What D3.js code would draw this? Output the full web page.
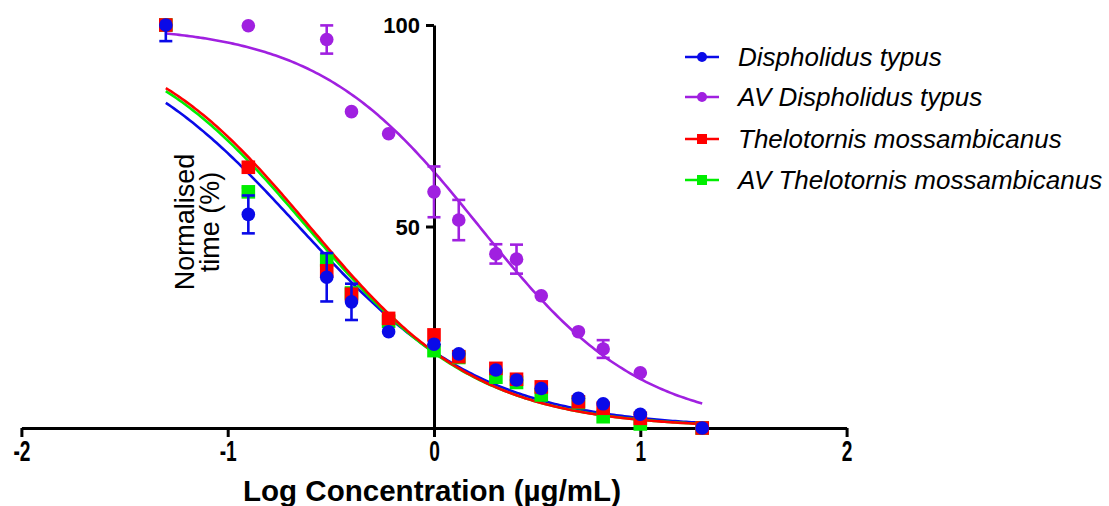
<!DOCTYPE html>
<html>
<head>
<meta charset="utf-8">
<script src="https://cdn.jsdelivr.net/npm/d3@7"></script>
<style>
  html, body { margin: 0; padding: 0; background: #fff; }
  svg { display: block; }
  text { font-family: "Liberation Sans", Arial, sans-serif; fill: #000; }
</style>
</head>
<body>
<svg id="chart" width="1109" height="506"></svg>
<script>
// ---------- DATA ----------
const logConc   = [-1.3, -0.9, -0.52, -0.4, -0.22, 0, 0.12, 0.3, 0.4, 0.52, 0.7, 0.82, 1.0, 1.3];

const dtMean    = [100, 53.0, 37.4, 31.3, 23.9, 20.8, 18.4, 14.4, 11.9, 9.8, 7.4, 6.0, 3.4, 0];
const dtErr     = [4, 4.7, 6, 4.5, 0, 0, 0, 0, 0, 0, 0, 0, 0, 0];

const avDtMean  = [100, 99.8, 96.4, 78.5, 73.0, 58.6, 51.6, 43.2, 41.9, 32.8, 23.9, 19.6, 13.7, null];
const avDtErr   = [0, 0, 3.5, 0, 0, 6.3, 5, 2.4, 3.6, 0, 0, 2.2, 0, 0];

const tmMean    = [100, 64.7, 39.0, 33.2, 27.2, 23.1, 17.7, 14.8, 12.1, 10.2, 6.5, 4.9, 2.4, 0];
const tmErr     = [0, 0, 0, 0, 0, 0, 0, 0, 0, 0, 0, 0, 0, 0];

const avTmMean  = [100, 58.6, 41.7, 33.5, 26.5, 19.2, 17.5, 12.6, 11.3, 8.2, 6.3, 2.8, 1.0, 0];
const avTmErr   = [0, 1, 0, 0, 0, 0, 0, 0, 0, 0, 0, 0, 0, 0];

// fitted 4-parameter logistic curves (order: Dt, AV Dt, Tm, AV Tm)
const fitTop      = [100, 100, 100, 100];
const fitBottom   = [0, 0, 0, 0];
const fitLogEC50  = [-0.656, 0.22, -0.603, -0.6175];
const fitHill     = [0.964, 1.10, 1.05, 1.036];
const fitRange    = [-1.3, 1.3];

const seriesNames  = ["Dispholidus typus", "AV Dispholidus typus", "Thelotornis mossambicanus", "AV Thelotornis mossambicanus"];
const seriesColors = ["#0a0ae8", "#a020e0", "#ff0000", "#00ee00"];
const seriesShapes = ["circle", "circle", "square", "square"];

const xTicks = [-2, -1, 0, 1, 2];
const yTicks = [50, 100];
const xTitle = "Log Concentration (µg/mL)";
const yTitleLines = ["Normalised", "time (%)"];

// ---------- CHART ----------
const svg = d3.select("#chart");
const x = d3.scaleLinear().domain([-2, 2]).range([21.4, 846.6]);
const y = d3.scaleLinear().domain([0, 100]).range([428, 25]);

const means = [dtMean, avDtMean, tmMean, avTmMean];
const errs  = [dtErr, avDtErr, tmErr, avTmErr];

// curves
const curveG = svg.append("g");
const drawOrderCurves = [1, 0, 3, 2];
drawOrderCurves.forEach(i => {
  const pts = d3.range(0, 201).map(k => {
    const lx = fitRange[0] + (fitRange[1] - fitRange[0]) * k / 200;
    const v = fitBottom[i] + (fitTop[i] - fitBottom[i]) / (1 + Math.pow(10, fitHill[i] * (lx - fitLogEC50[i])));
    return [lx, v];
  });
  curveG.append("path")
    .attr("d", d3.line().x(d => x(d[0])).y(d => y(d[1]))(pts))
    .attr("fill", "none")
    .attr("stroke", seriesColors[i])
    .attr("stroke-width", 2.6);
});

// axes
const axG = svg.append("g");
const xAxis = d3.axisBottom(x).tickValues(xTicks).tickSize(9).tickSizeOuter(0).tickFormat(d => String(d));
const gx = axG.append("g").attr("transform", `translate(0,${y(0)})`).call(xAxis);
gx.select(".domain").attr("stroke", "#000").attr("stroke-width", 3);
gx.selectAll(".tick line").attr("stroke", "#000").attr("stroke-width", 3);
gx.selectAll(".tick text")
  .attr("font-family", "'Liberation Sans', Arial, sans-serif")
  .attr("font-size", 29).attr("font-weight", "bold")
  .attr("fill", "#000")
  .attr("y", 0).attr("dy", 0)
  .attr("transform", "translate(0,33) scale(0.66,1)");

const yAxis = d3.axisLeft(y).tickValues(yTicks).tickSize(8).tickSizeOuter(0).tickPadding(6);
const gy = axG.append("g").attr("transform", `translate(${x(0)},0)`).call(yAxis);
gy.select(".domain").attr("stroke", "#000").attr("stroke-width", 3);
gy.selectAll(".tick line").attr("stroke", "#000").attr("stroke-width", 3);
gy.selectAll(".tick text")
  .attr("font-size", 22).attr("font-weight", "bold").attr("fill", "#000")
  .attr("dy", "0.36em");

// titles
svg.append("text")
  .attr("x", 432).attr("y", 501)
  .attr("text-anchor", "middle")
  .attr("font-size", 29).attr("font-weight", "bold")
  .attr("textLength", 378).attr("lengthAdjust", "spacingAndGlyphs")
  .text(xTitle);

yTitleLines.forEach((line, i) => {
  svg.append("text")
    .attr("transform", `translate(${194 + i * 25},222) rotate(-90)`)
    .attr("text-anchor", "middle")
    .attr("font-size", 27)
    .text(line);
});

// points & error bars
const pointG = svg.append("g");
const drawOrderPts = [1, 3, 2, 0];
drawOrderPts.forEach(i => {
  const col = seriesColors[i];
  const g = pointG.append("g");
  logConc.forEach((lx, j) => {
    const v = means[i][j];
    if (v === null || v === undefined) return;
    const e = errs[i][j] || 0;
    const cx = x(lx);
    if (e > 0) {
      const hi = Math.min(100, v + e), lo = v - e;
      g.append("line").attr("x1", cx).attr("x2", cx).attr("y1", y(hi)).attr("y2", y(lo))
        .attr("stroke", col).attr("stroke-width", 2.6);
      g.append("line").attr("x1", cx - 6.5).attr("x2", cx + 6.5).attr("y1", y(lo)).attr("y2", y(lo))
        .attr("stroke", col).attr("stroke-width", 2.6);
      if (v + e <= 100) {
        g.append("line").attr("x1", cx - 6.5).attr("x2", cx + 6.5).attr("y1", y(hi)).attr("y2", y(hi))
          .attr("stroke", col).attr("stroke-width", 2.6);
      }
    }
    if (seriesShapes[i] === "circle") {
      g.append("circle").attr("cx", cx).attr("cy", y(v)).attr("r", 6.8).attr("fill", col);
    } else {
      g.append("rect").attr("x", cx - 6.8).attr("y", y(v) - 6.8).attr("width", 13.6).attr("height", 13.6).attr("fill", col);
    }
  });
});

// legend
const legY = [57, 97, 139, 180];
const leg = svg.append("g");
seriesNames.forEach((name, i) => {
  const ly = legY[i];
  const col = seriesColors[i];
  leg.append("line").attr("x1", 685).attr("x2", 719).attr("y1", ly).attr("y2", ly)
    .attr("stroke", col).attr("stroke-width", 2.6);
  if (seriesShapes[i] === "circle") {
    leg.append("circle").attr("cx", 702).attr("cy", ly).attr("r", 5).attr("fill", col);
  } else {
    leg.append("rect").attr("x", 697).attr("y", ly - 5).attr("width", 10).attr("height", 10).attr("fill", col);
  }
  leg.append("text").attr("x", 738).attr("y", ly).attr("dy", "0.35em")
    .attr("font-size", 26).attr("font-style", "italic")
    .text(name);
});
</script>
</body>
</html>
